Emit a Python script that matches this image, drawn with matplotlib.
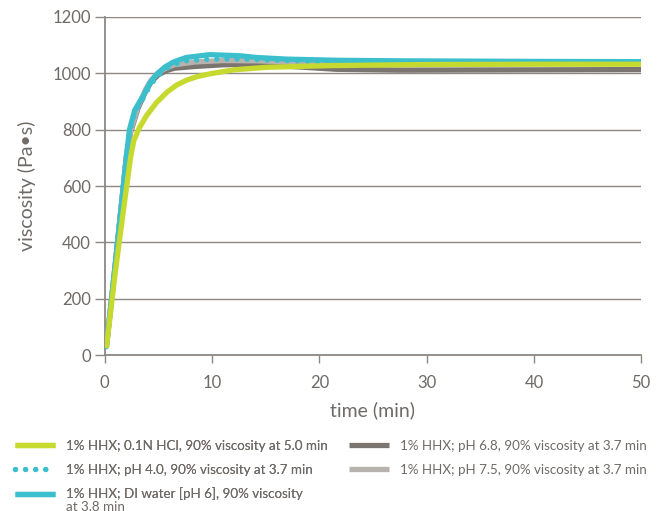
import matplotlib
matplotlib.use("Agg")
import matplotlib.pyplot as plt

# ---- data ----
t_green = [0.15, 1.0, 1.9, 2.4, 2.7, 3.2, 3.9, 4.8, 5.8, 6.7, 7.6, 8.6, 9.8, 12, 15, 21, 30, 40, 50]
v_green = [25, 300, 560, 700, 760, 805, 850, 895, 933, 958, 975, 988, 998, 1012, 1021, 1027, 1031, 1032, 1032]

t_cyan = [0.15, 1.0, 2.0, 2.3, 2.8, 3.6, 4.2, 4.8, 5.6, 6.4, 7.6, 9.8, 12.6, 14.1, 17, 21.6, 27.5, 40, 50]
v_cyan = [30, 330, 700, 800, 870, 921, 965, 995, 1022, 1040, 1056, 1066, 1062, 1056, 1050, 1046, 1044, 1042, 1041]

t_dot = [0.15, 1.0, 2.0, 2.3, 2.8, 3.6, 4.2, 4.8, 5.6, 6.4, 7.6, 9.8, 12.6, 15, 20, 30, 40, 50]
v_dot = [30, 330, 700, 790, 860, 912, 955, 985, 1013, 1030, 1044, 1050, 1050, 1047, 1042, 1039, 1038, 1038]

t_dark = [0.15, 1.0, 2.0, 2.4, 3.1, 3.8, 4.3, 5.0, 5.8, 6.5, 8.4, 11, 14.2, 17, 21.6, 27.5, 40, 50]
v_dark = [30, 330, 700, 790, 876, 935, 968, 995, 1010, 1018, 1024, 1030, 1033, 1025, 1014, 1011, 1012, 1013]

t_light = [0.15, 1.0, 2.0, 2.4, 3.1, 3.8, 4.3, 5.0, 5.8, 6.5, 8.4, 11, 14.2, 17, 21.6, 27.5, 40, 50]
v_light = [30, 330, 700, 795, 882, 942, 975, 1003, 1020, 1030, 1040, 1045, 1044, 1040, 1036, 1036, 1036, 1036]

labels = [
    "1% HHX; 0.1N HCl, 90% viscosity at 5.0 min",
    "1% HHX; pH 4.0, 90% viscosity at 3.7 min",
    "1% HHX; DI water [pH 6], 90% viscosity",
    "1% HHX; pH 6.8, 90% viscosity at 3.7 min",
    "1% HHX; pH 7.5, 90% viscosity at 3.7 min",
]
label3_cont = "at 3.8 min"
x_ticks = [0, 10, 20, 30, 40, 50]
y_ticks = [0, 200, 400, 600, 800, 1000, 1200]

# ---- style ----
GREEN = "#c6d92f"
CYAN = "#3cbfcd"
DARK = "#7b7571"
LIGHT = "#b7b2ad"
TXT = "#6f6a66"
GRID = "#8e8884"

plt.rcParams["font.family"] = ["Lato", "DejaVu Sans"]

fig = plt.figure(figsize=(6.59, 5.11), dpi=100)
ax = fig.add_axes([0.159, 0.305, 0.814, 0.662])

lw = 3.8
dot_style = (0, (0.01, 1.9))
h_dark, = ax.plot(t_dark, v_dark, color=DARK, lw=lw, solid_capstyle="butt", zorder=3)
h_light, = ax.plot(t_light, v_light, color=LIGHT, lw=lw, solid_capstyle="butt", zorder=3)
h_cyan, = ax.plot(t_cyan, v_cyan, color=CYAN, lw=lw, solid_capstyle="butt", zorder=4)
h_dot, = ax.plot(t_dot, v_dot, color=CYAN, lw=lw, linestyle=dot_style,
                 dash_capstyle="round", zorder=5)
h_green, = ax.plot(t_green, v_green, color=GREEN, lw=lw, solid_capstyle="butt", zorder=6)

ax.set_xlim(0, 50)
ax.set_ylim(0, 1200)
ax.set_xticks(x_ticks)
ax.set_yticks(y_ticks)
ax.yaxis.grid(True, color=GRID, lw=1.0)
ax.set_axisbelow(True)
for s in ["top", "right"]:
    ax.spines[s].set_visible(False)
for s in ["left", "bottom"]:
    ax.spines[s].set_color(GRID)
    ax.spines[s].set_linewidth(1.3)
ax.tick_params(axis="y", length=7, width=1.0, color=GRID, labelcolor=TXT, labelsize=12, pad=3)
ax.tick_params(axis="x", length=6, width=1.0, color=GRID, labelcolor=TXT, labelsize=12, pad=8)
ax.set_xlabel("time (min)", color=TXT, fontsize=14, labelpad=8)
ax.set_ylabel("viscosity (Pa\u2022s)", color=TXT, fontsize=14, labelpad=12)

fs = 9.6
common = dict(loc="upper left", frameon=False, fontsize=fs, labelcolor=TXT,
              handlelength=3.0, handletextpad=0.85, borderpad=0, borderaxespad=0,
              labelspacing=0.88)
leg1 = fig.legend([h_green, h_dot, h_cyan], labels[:3],
                  bbox_to_anchor=(15 / 659, 1 - 440 / 511), **common)
fig.add_artist(leg1)
leg2 = fig.legend([h_dark, h_light], labels[3:],
                  bbox_to_anchor=(349 / 659, 1 - 440 / 511), **common)
fig.text(66.5 / 659, 1 - 506.5 / 511, label3_cont, color=TXT, fontsize=fs,
         ha="left", va="center")

fig.savefig("out.png", dpi=100)
